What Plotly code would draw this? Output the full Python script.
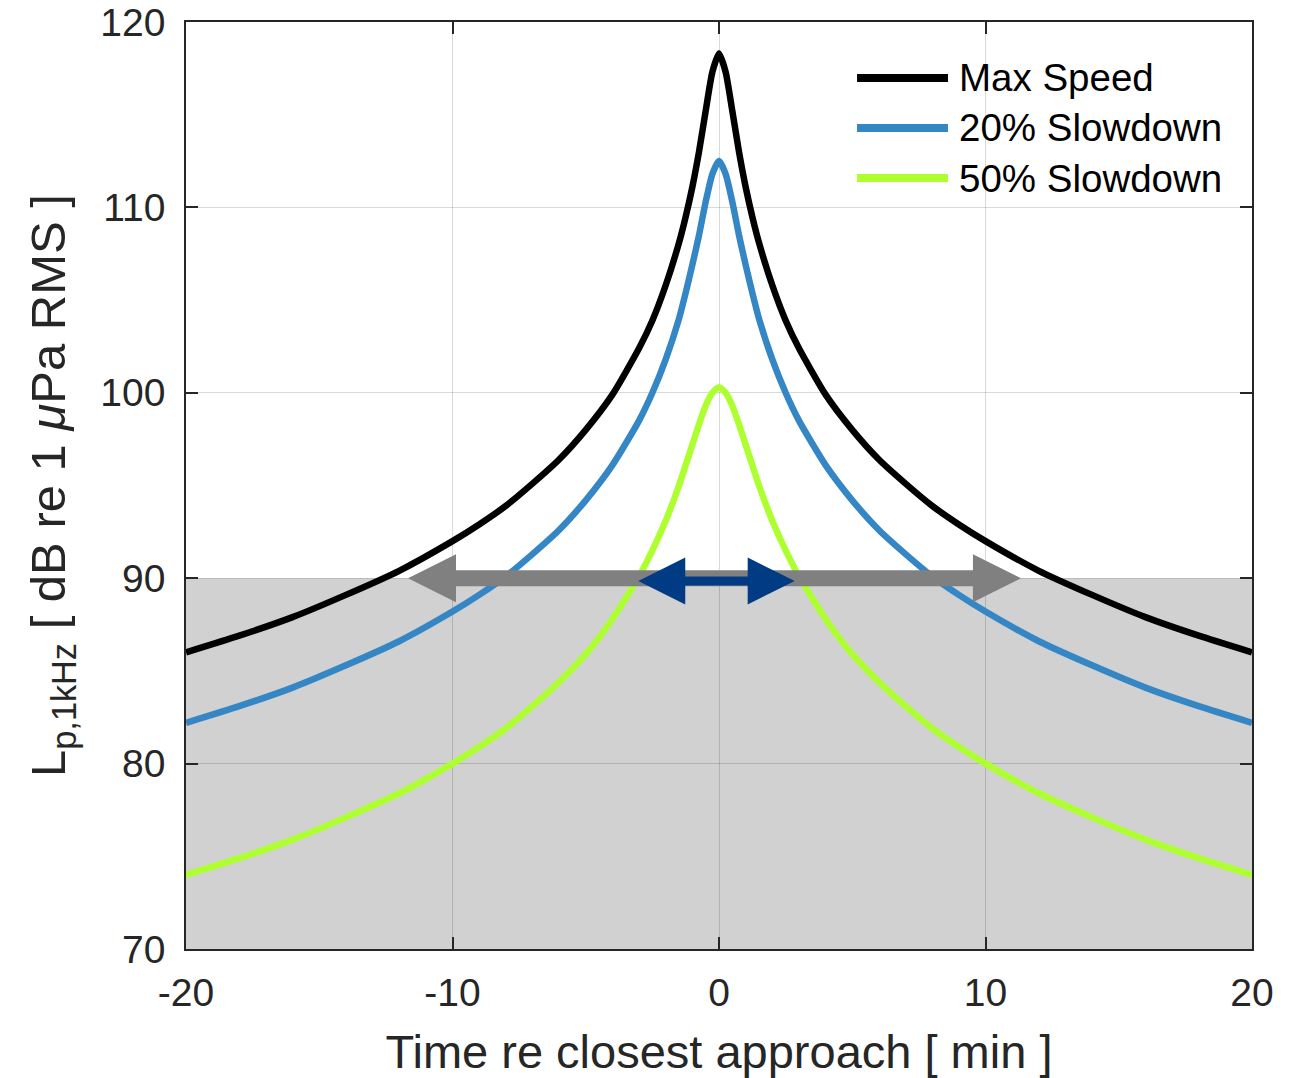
import plotly.graph_objects as go

# ---- data ----
time_min = [-20, -18, -16, -14, -12, -10, -9, -8, -7, -6, -5, -4, -3, -2.5, -2, -1.5, -1.25, -1,
            -0.75, -0.5, -0.25, 0, 0.25, 0.5, 0.75, 1, 1.25, 1.5, 2, 2.5, 3, 4, 5, 6, 7, 8, 9, 10,
            12, 14, 16, 18, 20]
max_speed = [86.0, 86.9, 87.9, 89.1, 90.4, 92.0, 92.9, 93.9, 95.1, 96.4, 98.0, 99.9, 102.4, 103.9,
             105.8, 108.1, 109.5, 111.1, 113.0, 115.2, 117.3, 118.3, 117.3, 115.2, 113.0, 111.1,
             109.5, 108.1, 105.8, 103.9, 102.4, 99.9, 98.0, 96.4, 95.1, 93.9, 92.9, 92.0, 90.4,
             89.1, 87.9, 86.9, 86.0]
slow_20 = [82.2, 83.1, 84.1, 85.3, 86.6, 88.2, 89.1, 90.1, 91.3, 92.6, 94.2, 96.1, 98.5, 100.0,
           101.8, 104.0, 105.4, 106.9, 108.5, 110.3, 111.8, 112.5, 111.8, 110.3, 108.5, 106.9,
           105.4, 104.0, 101.8, 100.0, 98.5, 96.1, 94.2, 92.6, 91.3, 90.1, 89.1, 88.2, 86.6,
           85.3, 84.1, 83.1, 82.2]
slow_50 = [74.0, 74.9, 75.9, 77.1, 78.4, 80.0, 80.9, 81.9, 83.1, 84.4, 85.9, 87.8, 90.1, 91.5,
           93.1, 95.0, 96.1, 97.2, 98.3, 99.3, 100.0, 100.3, 100.0, 99.3, 98.3, 97.2, 96.1,
           95.0, 93.1, 91.5, 90.1, 87.8, 85.9, 84.4, 83.1, 81.9, 80.9, 80.0, 78.4, 77.1, 75.9,
           74.9, 74.0]
series_names = ["Max Speed", "20% Slowdown", "50% Slowdown"]
threshold_db = 90
gray_arrow_x = [-11.67, 11.33]
navy_arrow_x = [-3.03, 2.84]
navy_arrow_y = 89.85
x_ticks = [-20, -10, 0, 10, 20]
x_tick_labels = ["-20", "-10", "0", "10", "20"]
y_ticks = [70, 80, 90, 100, 110, 120]
y_tick_labels = ["70", "80", "90", "100", "110", "120"]

# ---- styles ----
colors = ["#000000", "#3486C4", "#ADFF2F"]
FONT = "Liberation Sans, Arial, Helvetica, sans-serif"
TXT = "#262626"

fig = go.Figure()
for name, ys, c in zip(series_names, [max_speed, slow_20, slow_50], colors):
    fig.add_trace(go.Scatter(x=time_min, y=ys, mode="lines", name=name,
                             line=dict(color=c, width=6.5, shape="spline", smoothing=0.6),
                             showlegend=False))

# shaded region below threshold
fig.add_shape(type="rect", xref="x", yref="y", x0=x_ticks[0], x1=x_ticks[-1],
              y0=y_ticks[0], y1=threshold_db, fillcolor="#d1d1d1", line_width=0, layer="below")

def double_arrow(x_pair, y, color, shaft_half, head_len, head_half):
    xl, xr = x_pair
    # shaft
    fig.add_shape(type="rect", xref="x", yref="y", x0=xl + 1.0, x1=xr - 1.0,
                  ysizemode="pixel", yanchor=y, y0=-shaft_half, y1=shaft_half,
                  fillcolor=color, line_width=0, layer="above")
    # heads
    for tip, sgn in [(xl, 1), (xr, -1)]:
        fig.add_shape(type="path", xref="x", yref="y",
                      xsizemode="pixel", xanchor=tip, ysizemode="pixel", yanchor=y,
                      path=f"M0,0 L{sgn*head_len},{head_half} L{sgn*head_len},{-head_half} Z",
                      fillcolor=color, line_width=0, layer="above")

double_arrow(gray_arrow_x, threshold_db, "#808080", 8, 48, 24)
double_arrow(navy_arrow_x, navy_arrow_y, "#003B84", 4.5, 47, 23.5)

# manual legend (long line samples)
leg_y = [0.9396, 0.8857, 0.8317]
for name, c, yy in zip(series_names, colors, leg_y):
    fig.add_shape(type="line", xref="paper", yref="paper", x0=0.6295, x1=0.7148, y0=yy, y1=yy,
                  line=dict(color=c, width=8), layer="above")
    fig.add_annotation(xref="paper", yref="paper", x=0.7233, y=yy, text=name, showarrow=False,
                       xanchor="left", yanchor="middle", font=dict(family=FONT, size=38.5, color="#000000"))

axis_common = dict(showline=True, linecolor=TXT, linewidth=1.5, mirror="ticks",
                   ticks="inside", ticklen=12, tickwidth=1.5, tickcolor=TXT, automargin=False,
                   ticklabeloverflow="allow",
                   showgrid=True, gridcolor="rgba(0,0,0,0.15)", gridwidth=1, zeroline=False,
                   tickfont=dict(family=FONT, size=39, color=TXT))

fig.update_xaxes(range=[x_ticks[0], x_ticks[-1]], tickvals=x_ticks, ticktext=x_tick_labels,
                 ticklabelstandoff=8,
                 title=dict(text="Time re closest approach [ min ]",
                            font=dict(family=FONT, size=47, color=TXT), standoff=34),
                 **axis_common)
fig.update_yaxes(range=[y_ticks[0], y_ticks[-1]], tickvals=y_ticks, ticktext=y_tick_labels,
                 ticklabelstandoff=11,
                 title=dict(text="L<sub>p,1kHz</sub> [ dB re 1 <i>μ</i>Pa RMS ]",
                            font=dict(family=FONT, size=49, color=TXT), standoff=19),
                 **axis_common)

# page body has an 8px margin, so the figure is offset by 8px
fig.update_layout(width=1288, height=1070, margin=dict(l=178, r=44, t=14, b=129),
                  plot_bgcolor="white", paper_bgcolor="white", showlegend=False,
                  font=dict(family=FONT, color=TXT))

fig.write_html("out.html")
